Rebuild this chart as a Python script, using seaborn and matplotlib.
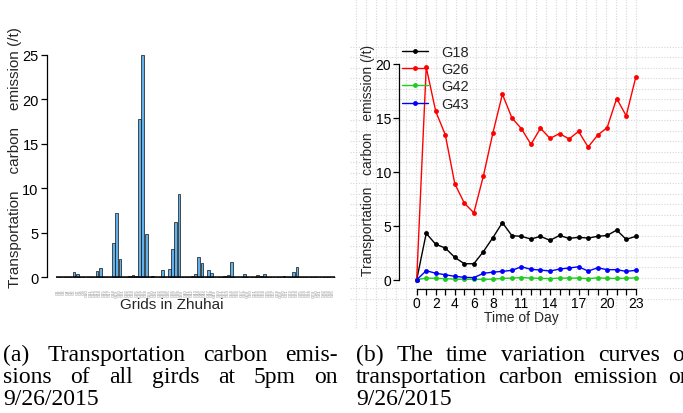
import numpy as np
import pandas as pd
import seaborn as sns
import matplotlib
matplotlib.use("Agg")
from matplotlib import pyplot as plt

# (a) emission of every grid at 5pm
grid_values = [0.02, 0.03, 0.0, 0.05, 0.03, 0.55, 0.32, 0.05, 0.03, 0.02,
               0.05, 0.04, 0.65, 1.0, 0.05, 0.05, 0.03, 3.8, 7.2, 2.0,
               0.02, 0.05, 0.1, 0.18, 0.12, 17.8, 25.0, 4.9, 0.02, 0.08,
               0.06, 0.05, 0.8, 0.05, 0.9, 3.1, 6.2, 9.3, 0.02, 0.05,
               0.05, 0.1, 0.3, 2.2, 1.6, 0.05, 0.8, 0.4, 0.02, 0.05,
               0.05, 0.08, 0.25, 1.7, 0.02, 0.04, 0.03, 0.35, 0.05, 0.02,
               0.05, 0.2, 0.15, 0.3, 0.05, 0.02, 0.03, 0.02, 0.05, 0.1,
               0.02, 0.05, 0.6, 1.1, 0.02, 0.03, 0.04, 0.02, 0.05, 0.03,
               0.02, 0.05, 0.04, 0.03, 0.02]
grid_names = ["G%d" % (i + 1) for i in range(len(grid_values))]

# (b) hourly curves
hours = list(range(24))
g18 = [0, 4.3, 3.28, 2.94, 2.07, 1.48, 1.48, 2.6, 3.9, 5.29, 4.08, 4.02,
       3.77, 4.02, 3.65, 4.1, 3.83, 3.93, 3.86, 4.02, 4.1, 4.6, 3.74, 4.02]
g26 = [0, 19.7, 15.6, 13.45, 8.9, 7.1, 6.2, 9.6, 13.6, 17.2, 15.0, 14.0,
       12.55, 14.05, 13.1, 13.55, 13.05, 13.75, 12.3, 13.4, 14.1, 16.8, 15.2, 18.75]
g42 = [0, 0.15, 0.12, 0.1, 0.05, 0.04, 0.04, 0.03, 0.05, 0.12, 0.15, 0.2,
       0.15, 0.12, 0.1, 0.15, 0.14, 0.15, 0.1, 0.17, 0.12, 0.12, 0.13, 0.17]
g43 = [0, 0.83, 0.6, 0.46, 0.31, 0.22, 0.19, 0.59, 0.7, 0.77, 0.87, 1.2,
       0.96, 0.9, 0.8, 0.99, 1.08, 1.2, 0.8, 1.1, 0.93, 0.93, 0.77, 0.87]
series = {"G18": g18, "G26": g26, "G42": g42, "G43": g43}
colors = {"G18": "black", "G26": "#ff0000", "G42": "#1fcc1f", "G43": "#0000ff"}
hour_labels = [0, 2, 4, 6, 8, 11, 14, 17, 20, 23]

sns.set_theme(style="white")
plt.rcParams["font.family"] = ["Liberation Sans", "DejaVu Sans"]

W, H = 683, 414
fig = plt.figure(figsize=(W / 100, H / 100), dpi=100)


def rect(x0, y0, x1, y1):
    # pixel box (from top-left) -> figure fraction
    return [x0 / W, 1 - y1 / H, (x1 - x0) / W, (y1 - y0) / H]


# ---------- (a) bar chart ----------
ax1 = fig.add_axes(rect(47, 53.3, 340, 280.7))
sns.barplot(x=grid_names, y=grid_values, ax=ax1, color="#64b0e8", saturation=1,
            edgecolor="#111111", linewidth=0.5, width=0.85)
ax1.hlines(0, -0.5, len(grid_values) - 0.5, color="black", lw=1.1)
ax1.set_xlim((47 - 57.6) / 3.28, (340 - 57.6) / 3.28)
ax1.set_ylim(-0.3, 25.3)
for s in ["top", "right", "bottom"]:
    ax1.spines[s].set_visible(False)
ax1.spines["left"].set_bounds(0, 25)
ax1.spines["left"].set_color("black")
ax1.spines["left"].set_linewidth(0.9)
ax1.set_yticks([0, 5, 10, 15, 20, 25])
ax1.tick_params(axis="y", left=True, length=4, width=0.9, labelsize=10.5, pad=2, colors="black")
ax1.tick_params(axis="x", bottom=False, pad=0.5)
ax1.set_xticks(range(len(grid_names)))
ax1.set_xticklabels(grid_names, rotation=90, fontsize=3, color="#8a8a8a", va="top")
ax1.set_xlabel("Grids in Zhuhai", fontsize=11, va="center")
ax1.xaxis.set_label_coords((172 - 47) / 293, (280.7 - 305) / 227.4)
ax1.set_ylabel("Transportation    carbon    emission (/t)", fontsize=11, va="center")
ax1.yaxis.set_label_coords((15 - 47) / 293, (280.7 - 157.5) / 227.4)
ax1.set_facecolor("none")

# ---------- (b) line chart ----------
bg = fig.add_axes(rect(350, 0, 683, 330), zorder=0)
bg.set_xlim(350, 683)
bg.set_ylim(330, 0)
bg.axis("off")
bg.vlines(np.arange(356, 637, 10), 0, 330, color="#d6d6d6", lw=0.8, linestyle=(0, (1, 1.5)))
bg.hlines(np.arange(47.7, 301, 10.5), 350, 683, color="#d6d6d6", lw=0.8, linestyle=(0, (1, 1.5)))

ax2 = fig.add_axes(rect(350, 0, 683, 330), zorder=1)
ax2.set_facecolor("none")
for name, vals in series.items():
    sns.lineplot(x=hours, y=vals, ax=ax2, color=colors[name], lw=1, marker="o",
                 markersize=3.5, markeredgewidth=0, label=name)
xs = 9.522
ys = 10.785
ax2.set_xlim(-66.7 / xs, -66.7 / xs + 333 / xs)
ax2.set_ylim(-(330 - 280.7) / ys, 280.7 / ys)
ax2.spines["top"].set_visible(False)
ax2.spines["right"].set_visible(False)
ax2.spines["left"].set_position(("data", (399 - 416.7) / xs))
ax2.spines["bottom"].set_position(("data", (280.7 - 290) / ys))
ax2.spines["left"].set_bounds(0, 20)
ax2.spines["bottom"].set_bounds(0, 23)
for s in ["left", "bottom"]:
    ax2.spines[s].set_color("black")
    ax2.spines[s].set_linewidth(0.9)
ax2.set_yticks([0, 5, 10, 15, 20])
ax2.set_xticks(hours)
ax2.set_xticklabels([str(h) if h in hour_labels else "" for h in hours])
ax2.tick_params(axis="both", left=True, bottom=True, length=4, width=0.9,
                labelsize=10, pad=1.5, colors="black")
ax2.tick_params(axis="x", pad=1)
ax2.set_xlabel("Time of Day", fontsize=10, va="center")
ax2.xaxis.set_label_coords((521.7 - 350) / 333, (330 - 318.5) / 330)
ax2.set_ylabel("Transportation   carbon   emission (/t)", fontsize=10, va="center")
ax2.yaxis.set_label_coords((368 - 350) / 333, (330 - 160) / 330)
ax2.legend(loc="upper left", bbox_to_anchor=(401.7 / W, 1 - 46 / H),
           bbox_transform=fig.transFigure, frameon=False, fontsize=10.5,
           handlelength=1.8, handletextpad=0.9, labelspacing=0.22,
           borderpad=0, borderaxespad=0)

# ---------- captions ----------
renderer = fig.canvas.get_renderer()


def caption_line(words, x0, y, x1=None):
    texts = [fig.text(0, 1 - y / H, w, fontsize=17, family="Liberation Serif",
                      va="baseline", color="black") for w in words]
    widths = [t.get_window_extent(renderer).width for t in texts]
    if x1 is None or len(words) == 1:
        gap = 5
    else:
        gap = (x1 - x0 - sum(widths)) / (len(words) - 1)
    x = x0
    for t, w in zip(texts, widths):
        t.set_x(x / W)
        x += w + gap


caption_line(["(a)", "Transportation", "carbon", "emis-"], 3, 361, 338)
caption_line(["sions", "of", "all", "girds", "at", "5pm", "on"], 3, 383, 338)
caption_line(["9/26/2015"], 3, 405)
caption_line(["(b)", "The", "time", "variation", "curves", "of"], 356, 361, 692)
caption_line(["transportation", "carbon", "emission", "on"], 356, 383, 692)
caption_line(["9/26/2015"], 356, 405)

fig.savefig("out.png", dpi=100)
